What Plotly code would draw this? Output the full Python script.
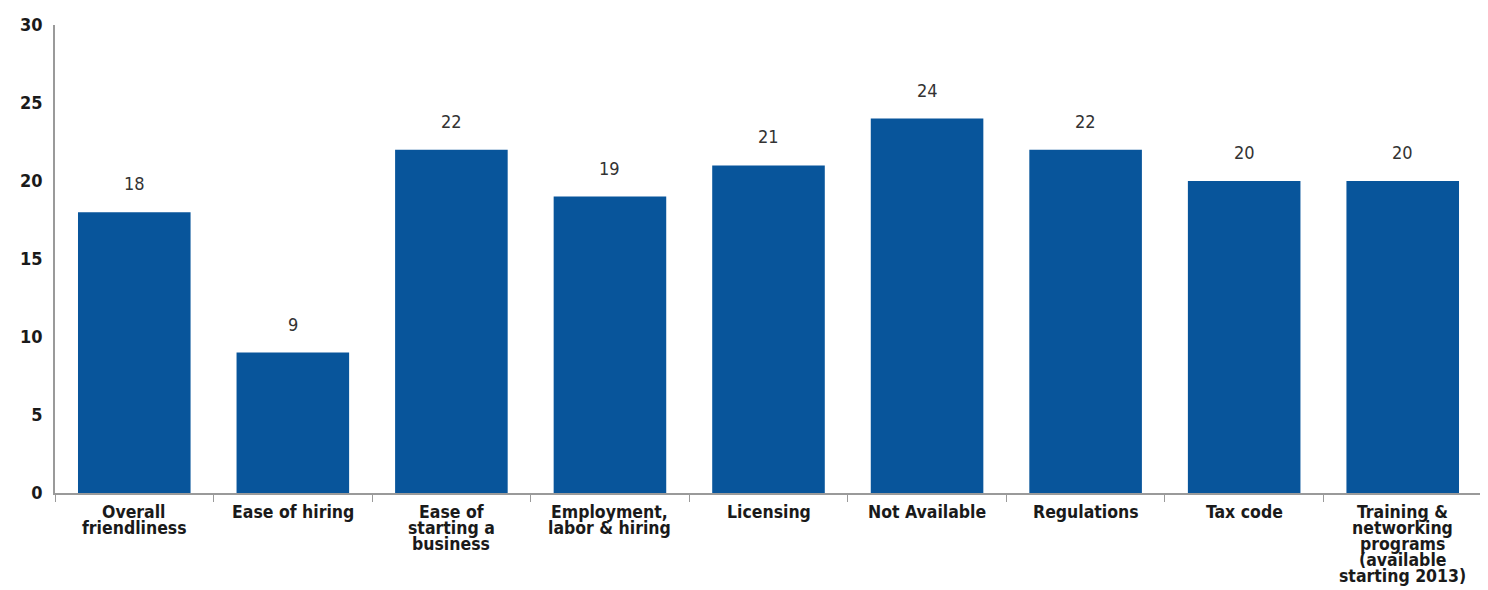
import plotly.graph_objects as go

categories = [
    "Overall<br>friendliness",
    "Ease of hiring",
    "Ease of<br>starting a<br>business",
    "Employment,<br>labor & hiring",
    "Licensing",
    "Not Available",
    "Regulations",
    "Tax code",
    "Training &<br>networking<br>programs<br>(available<br>starting 2013)",
]
values = [18, 9, 22, 19, 21, 24, 22, 20, 20]
y_ticks = [0, 5, 10, 15, 20, 25, 30]

bar_color = "#08559B"
axis_color = "#9a9a9a"
font_family = "DejaVu Sans Condensed"

fig = go.Figure()
fig.add_trace(go.Bar(
    x=categories,
    y=values,
    marker=dict(color=bar_color, line=dict(width=0)),
    width=0.71,
    hoverinfo="x+y",
))

# value labels above bars
for c, v in zip(categories, values):
    fig.add_annotation(
        x=c, y=v, text=str(v), showarrow=False,
        yanchor="bottom", yshift=16,
        font=dict(family=font_family, size=18, color="#333333"),
    )

# category labels with tight line spacing
for c in categories:
    for i, line in enumerate(c.split("<br>")):
        fig.add_annotation(
            x=c, y=0, yref="paper", text=line, showarrow=False,
            yanchor="top", yshift=-7 - 16 * i,
            font=dict(family=font_family, size=17.5, color="#1a1a1a", weight="bold"),
        )

fig.update_layout(
    width=1480, height=582,
    margin=dict(l=47, r=6, t=13.5, b=96.5),
    paper_bgcolor="white", plot_bgcolor="white",
    showlegend=False,
)
fig.update_xaxes(
    showline=True, linecolor=axis_color, linewidth=1.5,
    ticks="outside", tickson="boundaries", ticklen=7, tickcolor=axis_color,
    showticklabels=False,
    showgrid=False,
)
fig.update_yaxes(
    range=[0, 30], tickvals=y_ticks,
    showline=True, linecolor=axis_color, linewidth=1.5,
    showgrid=False, zeroline=False,
    ticks="", ticklabelstandoff=7,
    tickfont=dict(family=font_family, size=18, color="#1a1a1a", weight="bold"),
)

fig.write_html("out.html")
